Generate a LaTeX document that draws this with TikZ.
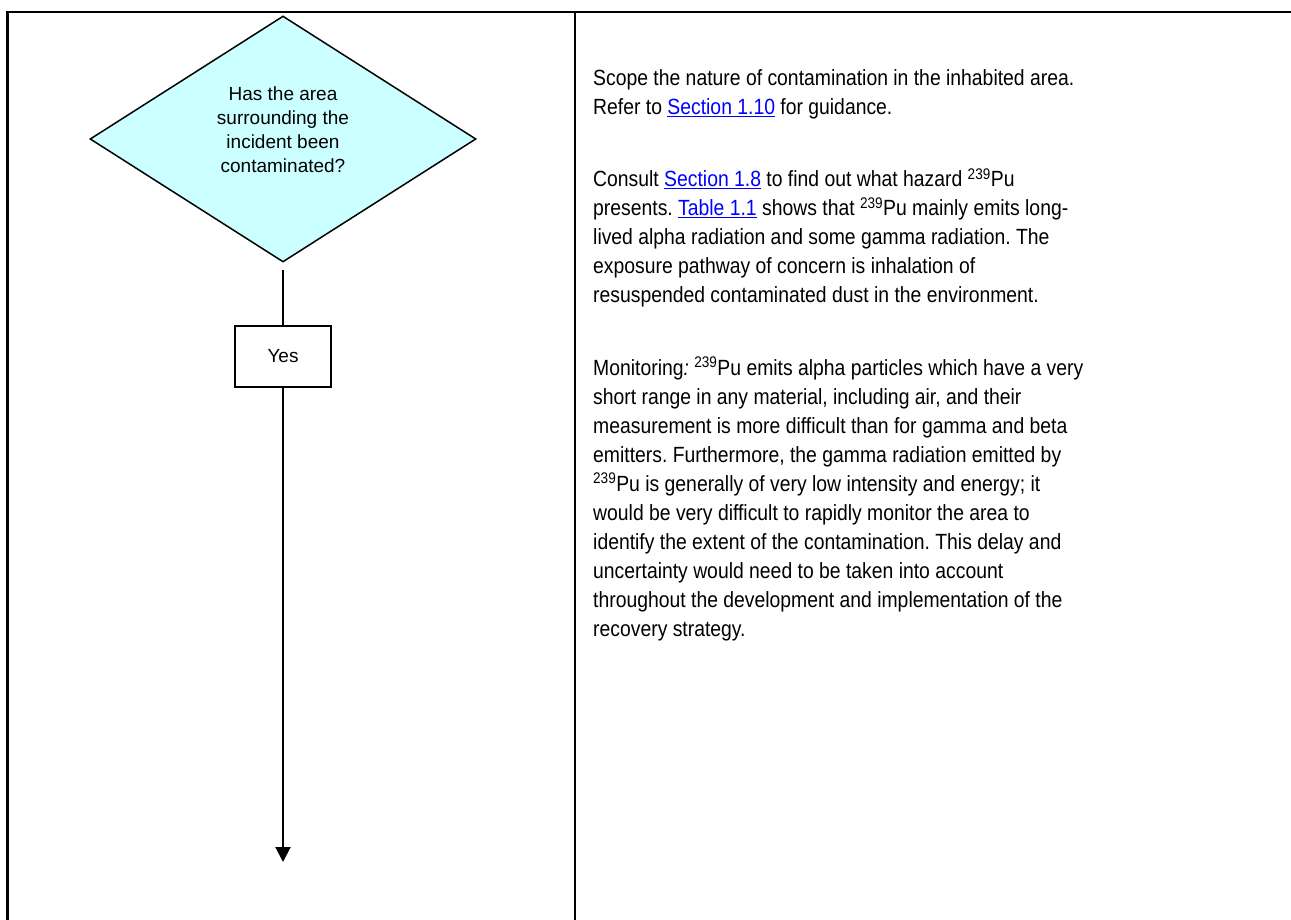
\documentclass[tikz,border=0pt]{standalone}
\usepackage{fontspec}
\setmainfont{Liberation Sans}
\newfontfamily\notefont[FakeStretch=0.88]{Liberation Sans}
\usetikzlibrary{positioning,arrows.meta,shapes.geometric}
\definecolor{qfill}{HTML}{CCFFFF}
\definecolor{linkblue}{HTML}{0000FF}
\newcommand{\xref}[1]{\textcolor{linkblue}{\underline{#1}}}
\newcommand{\pu}{\textsuperscript{239}Pu}
\frenchspacing
\begin{document}
\begin{tikzpicture}[%
	x=1pt, y=-1pt,
	every node/.style = {inner sep=0pt, align=center, font=\fontsize{19}{24}\selectfont},
	question/.style = {shape=diamond, draw, line width=1.5pt, fill=qfill,
	  minimum width=386pt, minimum height=246pt},
	answer/.style = {shape=rectangle, draw, line width=2pt,
	  minimum width=96pt, minimum height=61pt},
	notes/.style = {anchor=north west, align=left,
	  font=\notefont\fontsize{22}{29}\selectfont},
	frame/.style = {line width=2.5pt}
	]
  \useasboundingbox (0,0) rectangle (1291,920);
  % table frame
  \draw [frame] (7.5,925) -- (7.5,12) -- (1300,12);
  \draw [frame] (575,12) -- (575,925);
  % flow chart
  \node [question] (q) at (283,139) {};
  \node (qtext) at (283,130) {Has the area\\ surrounding the\\ incident been\\ contaminated?};
  \node [answer] (yes) at (283,356.5) {Yes};
  \coordinate (end) at (283,862);
  \draw [line width=2pt, shorten <=7pt] (q) -- (yes);
  \draw [line width=2pt, -{Triangle[length=15pt,width=15pt]}] (yes) -- (end);
  % notes
  \node [notes] (notes) at (593,69) {%
    Scope the nature of contamination in the inhabited area.\\
    Refer to \xref{Section 1.10} for guidance.\\[43.5pt]
    Consult \xref{Section 1.8} to find out what hazard \pu\\
    presents. \xref{Table 1.1} shows that \pu{} mainly emits long-\\
    lived alpha radiation and some gamma radiation. The\\
    exposure pathway of concern is inhalation of\\
    resuspended contaminated dust in the environment.\\[43.5pt]
    Monitoring\textit{:} \pu{} emits alpha particles which have a very\\
    short range in any material, including air, and their\\
    measurement is more difficult than for gamma and beta\\
    emitters. Furthermore, the gamma radiation emitted by\\
    \pu{} is generally of very low intensity and energy; it\\
    would be very difficult to rapidly monitor the area to\\
    identify the extent of the contamination. This delay and\\
    uncertainty would need to be taken into account\\
    throughout the development and implementation of the\\
    recovery strategy.};
\end{tikzpicture}
\end{document}
